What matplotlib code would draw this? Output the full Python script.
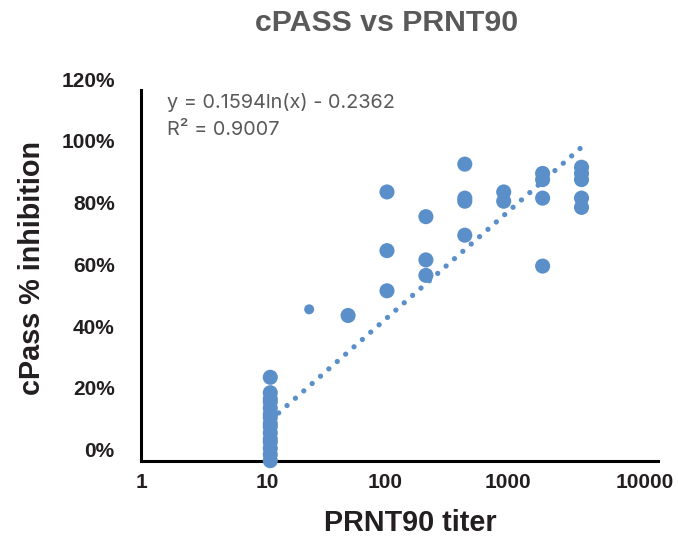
import numpy as np
import matplotlib
matplotlib.use('Agg')
import matplotlib.pyplot as plt
from matplotlib.transforms import ScaledTranslation
from matplotlib.ticker import FixedLocator, FuncFormatter, NullLocator

# PRNT90 titers and cPass % inhibition (fractions)
titer_10 = [10] * 15
inhib_10 = [0.27, 0.22, 0.20, 0.19, 0.17, 0.15, 0.14, 0.12, 0.11, 0.09, 0.07, 0.06, 0.04, 0.02, 0.00]
titer_rest = [40, 80, 80, 80, 160, 160, 160, 320, 320, 320, 320, 640, 640,
              1280, 1280, 1280, 1280, 2560, 2560, 2560, 2560, 2560]
inhib_rest = [0.47, 0.87, 0.68, 0.55, 0.79, 0.65, 0.60, 0.96, 0.85, 0.84, 0.73, 0.87, 0.84,
              0.93, 0.91, 0.85, 0.63, 0.95, 0.93, 0.91, 0.85, 0.82]
# one smaller marker
titer_small = [20]
inhib_small = [0.49]

# log trendline shown on chart
slope = 0.1594
intercept = -0.2362
r2 = 0.9007

xticks = [1, 10, 100, 1000, 10000]
yticks = [0, 0.2, 0.4, 0.6, 0.8, 1.0, 1.2]

blue = '#5B8FC9'
dark = '#231F20'
grey = '#595959'

fig = plt.figure(figsize=(6.78, 5.39), dpi=100)
ax = fig.add_axes([0.208, 0.1453, 0.7625, 0.6877])

ax.scatter(titer_10 + titer_rest, inhib_10 + inhib_rest, s=118, color=blue,
           edgecolors='none', zorder=3, clip_on=False)
ax.scatter(titer_small, inhib_small, s=52, color=blue, edgecolors='none', zorder=3)

all_x = np.array(titer_10 + titer_rest + titer_small)
xs = np.geomspace(all_x.min(), all_x.max(), 200)
ax.plot(xs, slope * np.log(xs) + intercept, color=blue, lw=3.8,
        linestyle=(0, (0.01, 2.1)), dash_capstyle='round', zorder=2)

ax.set_xscale('log')
ax.set_xlim(1, 10000)
ax.set_ylim(0, 1.2)
ax.xaxis.set_major_locator(FixedLocator(xticks))
ax.xaxis.set_minor_locator(NullLocator())
ax.xaxis.set_major_formatter(FuncFormatter(lambda v, p: f'{int(v)}'))
ax.yaxis.set_major_locator(FixedLocator(yticks))
ax.yaxis.set_major_formatter(FuncFormatter(lambda v, p: f'{v * 100:.0f}%'))

for side in ['top', 'right']:
    ax.spines[side].set_visible(False)
for side in ['left', 'bottom']:
    ax.spines[side].set_linewidth(2.2)
    ax.spines[side].set_color('black')

ax.tick_params(axis='both', length=0, labelsize=15, labelcolor=dark)
ax.tick_params(axis='y', pad=19)
ax.tick_params(axis='x', pad=9)
for lbl in ax.get_xticklabels() + ax.get_yticklabels():
    lbl.set_fontfamily('Liberation Sans')
    lbl.set_fontweight('bold')

# labels sit a little off their ticks in the original
for tick in ax.yaxis.get_major_ticks():
    tick.label1.set_transform(tick.label1.get_transform() +
                              ScaledTranslation(0, 11 / 100, fig.dpi_scale_trans))
x_shift = [0, -3, -14, -21, -13]
for tick, dx in zip(ax.xaxis.get_major_ticks(), x_shift):
    tick.label1.set_transform(tick.label1.get_transform() +
                              ScaledTranslation(dx / 100, 0, fig.dpi_scale_trans))

ax.set_xlabel('PRNT90 titer', fontsize=20.7, fontweight='bold', color=dark,
              fontfamily='Liberation Sans')
ax.xaxis.set_label_coords(0.52, -0.168)
ax.xaxis.label.set_va('center')
ax.set_ylabel('cPass % inhibition', fontsize=20.7, fontweight='bold', color=dark,
              fontfamily='Liberation Sans')
ax.yaxis.set_label_coords(-0.211, 0.52)
ax.yaxis.label.set_va('center')

fig.text(387 / 678, 1 - 23 / 539, 'cPASS vs PRNT90', ha='center', va='center',
         fontsize=21.8, fontweight='bold', color=grey, fontfamily='Liberation Sans')

sign = '-' if intercept < 0 else '+'
ax.text(0.05, 0.9676, f'y = {slope}ln(x) {sign} {abs(intercept)}', transform=ax.transAxes,
        ha='left', va='center', fontsize=14.3, color=grey, fontfamily='Inter')
ax.text(0.05, 0.892, f'R² = {r2}', transform=ax.transAxes,
        ha='left', va='center', fontsize=14.3, color=grey, fontfamily='Inter')

fig.savefig('out.png', dpi=100)
